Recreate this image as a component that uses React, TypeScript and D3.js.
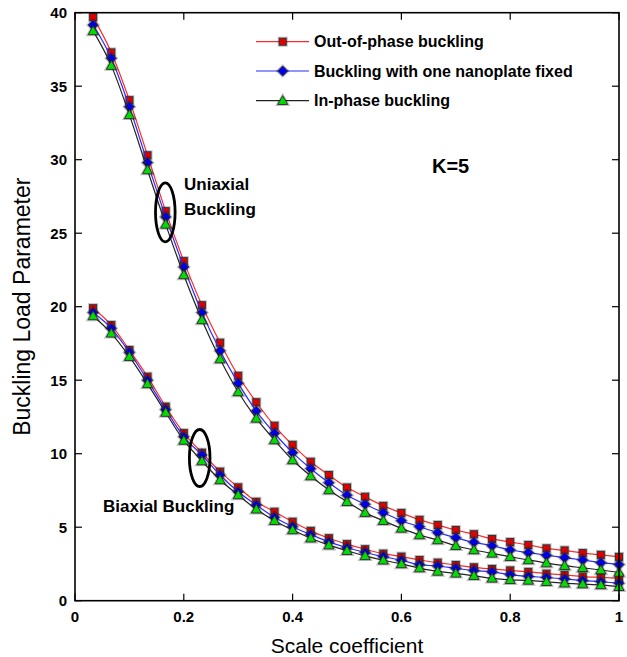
import React from "react";
import * as d3 from "d3";

// ---- Data ----
const scaleCoefficient = [
  0.0333, 0.0667, 0.1, 0.1333, 0.1667, 0.2, 0.2333, 0.2667, 0.3, 0.3333,
  0.3667, 0.4, 0.4333, 0.4667, 0.5, 0.5333, 0.5667, 0.6, 0.6333, 0.6667,
  0.7, 0.7333, 0.7667, 0.8, 0.8333, 0.8667, 0.9, 0.9333, 0.9667, 1.0,
];

const uniOutOfPhase = [
  39.7, 37.3, 34.05, 30.3, 26.5, 23.1, 20.1, 17.55, 15.3, 13.5,
  11.9, 10.6, 9.45, 8.55, 7.7, 7.07, 6.45, 5.97, 5.5, 5.15,
  4.81, 4.52, 4.2, 3.99, 3.79, 3.56, 3.42, 3.24, 3.12, 2.98,
];
const uniOneFixed = [
  39.16, 36.9, 33.6, 29.8, 26.1, 22.7, 19.6, 17.0, 14.8, 12.9,
  11.39, 10.07, 8.98, 8.03, 7.17, 6.56, 5.99, 5.44, 5.03, 4.63,
  4.29, 3.97, 3.74, 3.45, 3.27, 3.09, 2.93, 2.77, 2.59, 2.46,
];
const uniInPhase = [
  38.76, 36.4, 33.05, 29.3, 25.6, 22.16, 19.1, 16.44, 14.2, 12.4,
  10.93, 9.57, 8.48, 7.53, 6.73, 5.99, 5.44, 4.92, 4.47, 4.13,
  3.74, 3.45, 3.22, 2.99, 2.77, 2.56, 2.38, 2.24, 2.09, 1.92,
];

const biOutOfPhase = [
  19.9, 18.75, 17.05, 15.24, 13.2, 11.4, 10.07, 8.78, 7.71, 6.73,
  6.05, 5.37, 4.75, 4.25, 3.85, 3.5, 3.2, 3.0, 2.77, 2.59,
  2.43, 2.27, 2.16, 2.06, 1.96, 1.84, 1.75, 1.64, 1.58, 1.52,
];
const biOneFixed = [
  19.6, 18.53, 16.9, 15.0, 13.0, 11.15, 9.91, 8.55, 7.41, 6.51,
  5.67, 5.03, 4.5, 4.0, 3.6, 3.28, 3.0, 2.75, 2.45, 2.36,
  2.2, 2.05, 1.96, 1.77, 1.65, 1.58, 1.48, 1.37, 1.29, 1.19,
];
const biInPhase = [
  19.37, 18.19, 16.6, 14.75, 12.8, 10.9, 9.5, 8.21, 7.19, 6.22,
  5.44, 4.81, 4.25, 3.78, 3.4, 3.05, 2.75, 2.5, 2.22, 1.99,
  1.86, 1.7, 1.52, 1.42, 1.38, 1.29, 1.19, 1.13, 1.07, 0.95,
];

const xTicks = [0, 0.2, 0.4, 0.6, 0.8, 1];
const yTicks = [0, 5, 10, 15, 20, 25, 30, 35, 40];

const legendLabels = [
  "Out-of-phase buckling",
  "Buckling with one nanoplate fixed",
  "In-phase buckling",
];

// ---- Styling ----
const FONT = "Arial, 'Liberation Sans', Helvetica, sans-serif";
const W = 627;
const H = 657;
const PL = 75;
const PR = 619;
const PT = 12.7;
const PB = 600.7;

type Kind = "square" | "diamond" | "triangle";
const styles: { line: string; fill: string; kind: Kind }[] = [
  { line: "#ff2a2a", fill: "#e00000", kind: "square" },
  { line: "#2a2aff", fill: "#0000ee", kind: "diamond" },
  { line: "#222222", fill: "#00dd00", kind: "triangle" },
];

function Marker({ x, y, kind, fill }: { x: number; y: number; kind: Kind; fill: string }) {
  const common = { fill, stroke: "#333", strokeWidth: 1 };
  const halo = { fill: "none", stroke: "rgba(0,0,0,0.25)", strokeWidth: 3 };
  if (kind === "square") {
    const s = 7;
    return (
      <g>
        <rect x={x - s / 2} y={y - s / 2} width={s} height={s} {...halo} />
        <rect x={x - s / 2} y={y - s / 2} width={s} height={s} {...common} />
      </g>
    );
  }
  if (kind === "diamond") {
    const r = 5;
    const d = `M${x},${y - r}L${x + r},${y}L${x},${y + r}L${x - r},${y}Z`;
    return (
      <g>
        <path d={d} {...halo} />
        <path d={d} {...common} />
      </g>
    );
  }
  const r = 5;
  const d = `M${x},${y - r}L${x + r},${y + r * 0.75}L${x - r},${y + r * 0.75}Z`;
  return (
    <g>
      <path d={d} {...halo} />
      <path d={d} {...common} />
    </g>
  );
}

export default function App() {
  const x = d3.scaleLinear().domain([0, 1]).range([PL, PR]);
  const y = d3.scaleLinear().domain([0, 40]).range([PB, PT]);
  const line = d3
    .line<number>()
    .x((_, i) => x(scaleCoefficient[i]))
    .y((d) => y(d))
    .curve(d3.curveMonotoneX);

  const groups = [
    [biOutOfPhase, biOneFixed, biInPhase],
    [uniOutOfPhase, uniOneFixed, uniInPhase],
  ];

  const tickLen = 7;
  const legendY = [41.7, 71, 100.7];

  return (
    <svg
      width={W}
      height={H}
      style={{ position: "absolute", left: 0, top: 0, background: "#fff" }}
      fontFamily={FONT}
    >
      <rect x={0} y={0} width={W} height={H} fill="#fff" />

      {/* series */}
      {groups.map((grp, gi) => (
        <g key={gi}>
          {grp.map((vals, si) => (
            <g key={si}>
              <path d={line(vals) || ""} fill="none" stroke={styles[si].line} strokeWidth={1.2} />
              {vals.map((v, i) => (
                <Marker
                  key={i}
                  x={x(scaleCoefficient[i])}
                  y={y(v)}
                  kind={styles[si].kind}
                  fill={styles[si].fill}
                />
              ))}
            </g>
          ))}
        </g>
      ))}

      {/* frame */}
      <rect x={PL} y={PT} width={PR - PL} height={PB - PT} fill="none" stroke="#000" strokeWidth={1.6} />

      {/* x ticks */}
      {xTicks.map((t) => (
        <g key={"x" + t}>
          <line x1={x(t)} x2={x(t)} y1={PB} y2={PB - tickLen} stroke="#000" strokeWidth={1.2} />
          <line x1={x(t)} x2={x(t)} y1={PT} y2={PT + tickLen} stroke="#000" strokeWidth={1.2} />
          <text
            x={x(t)}
            y={616}
            textAnchor="middle"
            dominantBaseline="central"
            fontSize={15}
            fontWeight="bold"
          >
            {d3.format("~g")(t)}
          </text>
        </g>
      ))}

      {/* y ticks */}
      {yTicks.map((t) => (
        <g key={"y" + t}>
          <line x1={PL} x2={PL + tickLen} y1={y(t)} y2={y(t)} stroke="#000" strokeWidth={1.2} />
          <line x1={PR} x2={PR - tickLen} y1={y(t)} y2={y(t)} stroke="#000" strokeWidth={1.2} />
          <text
            x={67}
            y={y(t)}
            textAnchor="end"
            dominantBaseline="central"
            fontSize={15}
            fontWeight="bold"
          >
            {t}
          </text>
        </g>
      ))}

      {/* axis titles */}
      <text x={(PL + PR) / 2} y={645} textAnchor="middle" dominantBaseline="central" fontSize={21}>
        Scale coefficient
      </text>
      <text
        transform={`translate(22,${(PT + PB) / 2}) rotate(-90)`}
        textAnchor="middle"
        dominantBaseline="central"
        fontSize={23}
      >
        Buckling Load Parameter
      </text>

      {/* legend */}
      {legendLabels.map((lab, i) => (
        <g key={lab}>
          <line x1={256} x2={309} y1={legendY[i]} y2={legendY[i]} stroke={styles[i].line} strokeWidth={1.2} />
          <Marker x={282.7} y={legendY[i]} kind={styles[i].kind} fill={styles[i].fill} />
          <text x={314} y={legendY[i]} dominantBaseline="central" fontSize={16} fontWeight="bold">
            {lab}
          </text>
        </g>
      ))}

      {/* annotations */}
      <text x={432} y={166} dominantBaseline="central" fontSize={20} fontWeight="bold">
        K=5
      </text>
      <text x={184} y={184} dominantBaseline="central" fontSize={17} fontWeight="bold">
        Uniaxial
      </text>
      <text x={184} y={209} dominantBaseline="central" fontSize={17} fontWeight="bold">
        Buckling
      </text>
      <text x={103} y={506} dominantBaseline="central" fontSize={17} fontWeight="bold">
        Biaxial Buckling
      </text>
      <ellipse cx={165.3} cy={212.3} rx={9.8} ry={29.5} fill="none" stroke="#000" strokeWidth={2.8} />
      <ellipse cx={199.7} cy={458} rx={10.3} ry={28.5} fill="none" stroke="#000" strokeWidth={2.8} />
    </svg>
  );
}
